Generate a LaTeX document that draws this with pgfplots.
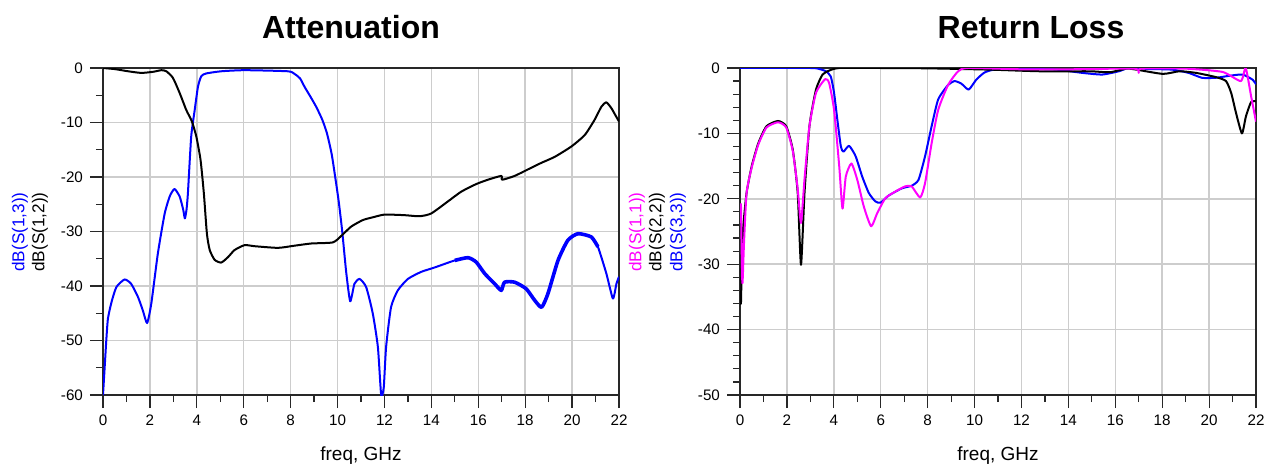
\documentclass[border=0pt]{standalone}
\usepackage{pgfplots}
\usepackage{pgfplotstable}
\pgfplotsset{compat=1.18}
\usepackage{fontspec}
\setmainfont{Liberation Sans}
\definecolor{gridc}{RGB}{205,205,205}
\definecolor{axc}{RGB}{40,40,40}
\definecolor{mag}{RGB}{255,0,255}
\definecolor{blu}{RGB}{0,0,255}
\pgfplotstableread{
x y
0 -60
0.07 -55
0.14 -50
0.21 -46
0.36 -43
0.57 -40.2
0.92 -38.8
1.2 -39.6
1.49 -42
1.7 -44.5
1.88 -46.8
2.06 -43.2
2.34 -34
2.63 -26.7
2.85 -23.5
3.05 -22.2
3.27 -23.6
3.42 -26
3.49 -27.6
3.56 -26
3.62 -23
3.76 -12.6
3.91 -7.7
4.05 -3.4
4.19 -1.5
4.4 -1.0
5.04 -0.6
6.04 -0.4
7.88 -0.6
8.17 -1.1
8.4 -1.9
8.6 -3.5
8.85 -5.3
9.1 -7.2
9.35 -9.5
9.55 -12
9.75 -15.8
9.9 -20
10.05 -24.5
10.2 -30
10.37 -37.5
10.54 -42.8
10.72 -39.6
10.94 -38.7
11.22 -40.2
11.5 -45
11.72 -51.2
11.86 -60
11.97 -58.6
12.07 -51.2
12.28 -43.9
12.57 -40.8
13.0 -38.7
13.57 -37.4
14.14 -36.6
15.0 -35.3
15.56 -34.8
15.91 -35.6
16.27 -37.7
16.7 -39.6
16.98 -40.8
17.12 -39.3
17.55 -39.3
18.04 -40.5
18.4 -42.6
18.7 -43.9
18.97 -41.4
19.4 -35.3
19.82 -31.6
20.25 -30.4
20.82 -31
21.1 -32.8
21.46 -37.7
21.74 -42.3
21.89 -39.6
22.0 -38.3
}\sonethree
\pgfplotstableread{
x y
0 0
0.5 -0.2
1.07 -0.6
1.63 -0.9
2.13 -0.7
2.49 -0.4
2.7 -0.6
2.98 -1.8
3.27 -4.6
3.55 -7.7
3.79 -9.8
3.98 -12.6
4.16 -16.9
4.3 -23
4.43 -30.4
4.55 -33.4
4.76 -35.2
5.04 -35.7
5.33 -34.7
5.61 -33.4
6.04 -32.5
6.47 -32.7
7.46 -33
8.17 -32.6
8.88 -32.2
9.8 -32
10.16 -30.8
10.58 -29.1
11.08 -27.9
11.5 -27.4
12.0 -26.9
12.85 -27
13.49 -27.2
13.99 -26.7
14.7 -24.5
15.27 -22.7
15.91 -21.3
16.41 -20.5
16.98 -19.8
17.02 -20.5
17.55 -19.8
18.12 -18.6
18.69 -17.4
19.26 -16.3
19.97 -14.4
20.54 -12.3
20.96 -9.5
21.25 -7.1
21.46 -6.3
21.68 -7.4
21.89 -9
22 -9.8
}\sonetwo
\pgfplotstableread{
x y
0 0
3.0 0
3.38 -0.15
3.66 -0.5
3.87 -1.3
4.01 -3.8
4.15 -7.9
4.3 -12
4.41 -12.8
4.65 -11.9
4.93 -13.5
5.21 -16.6
5.49 -19.1
5.77 -20.4
5.99 -20.6
6.34 -19.5
6.9 -18.4
7.32 -18
7.61 -17.1
7.89 -13.5
8.17 -8.9
8.45 -4.8
8.87 -2.6
9.15 -2.0
9.44 -2.4
9.75 -3.3
10.07 -1.8
10.42 -0.7
10.85 -0.25
12.07 -0.15
13.49 -0.25
14.6 -0.75
15.45 -1.0
16.15 -0.5
16.58 0
17.43 -0.15
18.42 -0.25
19.13 -0.75
19.7 -1.5
20.28 -1.5
20.85 -1.2
21.42 -1.0
21.86 -1.8
22 -2.5
}\sthreethree
\pgfplotstableread{
x y
0 -34
0.04 -36
0.08 -29
0.14 -24.2
0.28 -19.1
0.5 -15
0.78 -11.5
1.13 -8.9
1.62 -8.1
1.97 -8.9
2.25 -12.5
2.46 -19.1
2.6 -30.1
2.75 -19.1
2.96 -8.9
3.24 -3.3
3.52 -1.0
3.8 -0.4
4.23 0
6 0
8 -0.05
10.65 -0.25
12.78 -0.5
14.9 -0.5
15.76 -0.65
16.47 -0.1
16.9 -0.25
18.03 -0.9
18.74 -0.5
19.45 -0.75
20.3 -1.4
20.72 -2
20.94 -3.8
21.15 -6.9
21.4 -10
21.57 -7.4
21.79 -5.2
22 -5.1
}\stwotwo
\pgfplotstableread{
x y
0.04 -20.7
0.1 -32.9
0.17 -26.8
0.28 -19.1
0.5 -15.2
0.78 -11.7
1.13 -9.1
1.62 -8.3
1.97 -9.1
2.25 -12.7
2.46 -18.5
2.6 -23.7
2.75 -17
2.96 -8.9
3.24 -3.8
3.63 -1.7
3.8 -2.3
4.01 -6.4
4.23 -15
4.37 -21.5
4.51 -16.6
4.75 -14.6
5.0 -17.1
5.28 -21.2
5.59 -24.2
5.85 -22.2
6.2 -19.9
6.62 -18.9
7.04 -18.1
7.32 -18.1
7.68 -19.8
7.89 -17.6
8.17 -11.5
8.45 -6.4
8.87 -2.6
9.3 -0.5
9.72 0
12 -0.2
14 -0.2
16.8 -0.1
17.0 -0.75
17.1 -0.1
19 -0.1
20.57 -0.6
21.35 -2.0
21.56 0
21.79 -4.3
22 -8.2
}\soneone
\pgfplotsset{
  myax/.style={
    scale only axis, width=258pt, height=163.5pt,
    anchor=south west,
    xmin=0, xmax=22, xtick={0,2,...,22}, minor x tick num=1,
    tick align=outside, tick pos=left,
    major tick length=6.5pt, minor tick length=3.5pt,
    grid=major, major grid style={draw=gridc, line width=0.75pt},
    axis line style={draw=axc, line width=0.6pt},
    every tick/.style={draw=axc, line width=0.6pt},
    tick label style={font=\fontsize{7.6}{9}\selectfont, text=black},
    /pgf/number format/assume math mode=true,
    clip=true,
  },
  every axis plot/.append style={line width=1pt, line join=round},
}
\begin{document}
\begin{tikzpicture}
\path[use as bounding box] (0,0) rectangle (633.5pt,233pt);
% ---------- Attenuation ----------
\begin{axis}[myax, at={(51.5pt,35.5pt)},
  ymin=-60, ymax=0, ytick={-60,-50,...,0}, minor y tick num=1]
\addplot[blu, smooth, tension=0.35] table {\sonethree};
\addplot[blu, smooth, tension=0.35, line width=1.8pt, restrict x to domain=14.6:21.3] table {\sonethree};
\addplot[black, smooth, tension=0.35] table {\sonetwo};
\end{axis}
% ---------- Return Loss ----------
\begin{axis}[myax, at={(370pt,35.5pt)},
  ymin=-50, ymax=0, ytick={-50,-40,...,0}, minor y tick num=4]
\addplot[blu, smooth, tension=0.35] table {\sthreethree};
\addplot[black, smooth, tension=0.35] table {\stwotwo};
\addplot[mag, smooth, tension=0.35] table {\soneone};
\end{axis}
% ---------- titles and labels ----------
\node[anchor=base, font=\fontsize{16}{19}\selectfont\bfseries] at (175.5pt,213.75pt) {Attenuation};
\node[anchor=base, font=\fontsize{16}{19}\selectfont\bfseries] at (515.5pt,213.75pt) {Return Loss};
\node[anchor=base, font=\fontsize{9.5}{11}\selectfont] at (180.5pt,2.75pt) {freq, GHz};
\node[anchor=base, font=\fontsize{9.5}{11}\selectfont] at (499pt,2.75pt) {freq, GHz};
\node[rotate=90, inner sep=0pt, text=blu, font=\fontsize{8.6}{10}\selectfont] at (10pt,117pt) {dB(S(1,3))};
\node[rotate=90, inner sep=0pt, text=black, font=\fontsize{8.6}{10}\selectfont] at (20pt,117pt) {dB(S(1,2))};
\node[rotate=90, inner sep=0pt, text=mag, font=\fontsize{8.6}{10}\selectfont] at (318.5pt,117pt) {dB(S(1,1))};
\node[rotate=90, inner sep=0pt, text=black, font=\fontsize{8.6}{10}\selectfont] at (328.5pt,117pt) {dB(S(2,2))};
\node[rotate=90, inner sep=0pt, text=blu, font=\fontsize{8.6}{10}\selectfont] at (339pt,117pt) {dB(S(3,3))};
\end{tikzpicture}
\end{document}
